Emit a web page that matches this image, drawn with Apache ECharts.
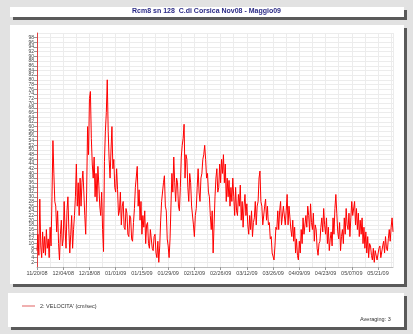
<!DOCTYPE html>
<html>
<head>
<meta charset="utf-8">
<script src="https://cdn.jsdelivr.net/npm/echarts@6/dist/echarts.min.js"></script>
<style>
html,body{margin:0;padding:0;background:#e2e2e2;}
#chart{width:413px;height:334px;}
</style>
</head>
<body>
<div id="chart"></div>
<script>
// ---- data ----
var titleText = "Rcm8 sn 128  C.di Corsica Nov08 - Maggio09";
var seriesName = "2: VELOCITA' (cm/sec)";
var footNote = "Averaging: 3";
// x tick labels, one every 14 days starting 11/20/08
var tickLabels = ['11/20/08','12/04/08','12/18/08','01/01/09','01/15/09','01/29/09','02/12/09',
  '02/26/09','03/12/09','03/26/09','04/09/09','04/23/09','05/07/09','05/21/09'];
var tickStepDays = 14;
var sampleStepDays = 0.5;
// speed values (cm/sec), every half day from 11/20/08
var velocity = [
 7,14, 5,29, 9,4, 15,6, 13,5, 16,8, 12,4, 17,9, 30,54, 40,28,
 26,15, 24,10, 3,14, 20,9, 12,28, 16,8, 24,30, 16,6, 14,22, 8,16,
 22,30, 44,26, 36,22, 38,26, 36,41, 32,22, 14,32, 60,48, 72,75, 55,44,
 38,47, 30,40, 28,43, 35,26, 22,32, 16,6.6, 45,58, 66,80, 58,46, 38,50,
 60,42, 46,34, 32,42, 33,22, 24,32, 18,26, 28,17, 16,25, 23,14, 13,22,
 21,12, 11,19, 25,34, 34,43, 26,33, 20,28, 14,22, 17,24, 10,18, 19,10,
 8,16, 16,8, 7,13, 14,6, 4,11, 2,9, 20,28, 28,36, 39,26, 24,12,
 9,4, 12,26, 40,32, 47,36, 28,38, 36,26, 24,34, 47,52, 55,61, 38,48,
 46,34, 28,40, 36,26, 26,18, 13,22, 25,34, 42,32, 28,38, 40,46, 48,52,
 46,38, 40,32, 30,22, 16,24, 6,18, 30,38, 42,32, 34,44, 36,46, 40,48,
 36,44, 28,38, 30,37, 26,34, 28,38, 30,22, 34,24, 22,31, 26,35, 20,28,
 17,26, 31,22, 27,18, 14,22, 16,24, 13,19, 21,28, 18,26, 28,38, 41,28,
 26,18, 18,26, 29,20, 26,18, 19,12, 13,6, 6,3, 9,17, 16,24, 16,24,
 28,18, 18,26, 26,18, 24,31, 18,26, 26,16, 13,20, 11,17, 6,12, 5,3,
 11,6, 16,10, 21,14, 14,22, 17,26, 22,15, 27,19, 16,23, 11,18, 16,8,
 5,10, 11,17, 21,15, 25,18, 14,21, 10,17, 7,12, 15,9, 21,14, 25,31,
 23,15, 12,19, 7,13, 16,10, 21,14, 25,18, 16,23, 13,21, 28,22, 22,28,
 18,25, 16,23, 13,20, 14,21, 10,17, 8,15, 6,13, 4,10, 9,5, 3,8,
 2,7, 7,3, 3,8, 9,4, 4,9, 11,6, 13,8, 7,12, 16,11, 17,21,
 15
];

var seriesData = velocity.map(function(v, i){ return [i * sampleStepDays, v]; });

var chart = echarts.init(document.getElementById('chart'), null, {renderer:'canvas'});
var font = 'Arial, "Liberation Sans", sans-serif';
function panel(x, y, w, h){
  return [
    {type:'rect', z:-20, shape:{x:x+3, y:y+3, width:w, height:h}, style:{fill:'#5a5a5a'}},
    {type:'rect', z:-19, shape:{x:x, y:y, width:w, height:h}, style:{fill:'#ffffff'}}
  ];
}
var option = {
  backgroundColor: '#e2e2e2',
  animation: false,
  graphic: [].concat(
    panel(10, 7, 394, 10),
    panel(10, 25, 394, 259),
    panel(8, 293, 396, 34),
    [{type:'text', z:5, left: 360, top: 316, style:{text: footNote, font: '5.5px ' + font, fill:'#333'}}]
  ),
  title: {
    text: titleText, left: 'center', top: 8, padding: 0,
    textStyle: {fontSize: 7, fontWeight: 'bold', color: '#2b2b86', fontFamily: font}
  },
  legend: {
    left: 17, top: 298, itemWidth: 13, itemHeight: 1, itemGap: 4, icon: 'rect',
    textStyle: {fontSize: 5.5, color: '#333', fontFamily: font},
    data: [{name: seriesName, icon:'rect', itemStyle:{color:'#e06060'}}]
  },
  grid: {left: 37, top: 33, right: 20, bottom: 67},
  xAxis: {
    type: 'value', min: 0, max: 190, interval: tickStepDays,
    axisLine: {show: true, lineStyle: {color: '#bdbdbd', width: 1}},
    axisTick: {show: true, length: 3, lineStyle: {color: '#999'}},
    minorTick: {show: false, splitNumber: 2},
    minorSplitLine: {show: true, lineStyle: {color: '#ececec', width: 1}},
    splitLine: {show: true, lineStyle: {color: '#ececec', width: 1}},
    axisLabel: {
      fontSize: 5.5, color: '#444', fontFamily: font, margin: 3,
      showMaxLabel: false,
      formatter: function(v){
        var k = Math.round(v / tickStepDays);
        if (Math.abs(k * tickStepDays - v) > 1e-6) return '';
        return tickLabels[k] || '';
      }
    }
  },
  yAxis: {
    type: 'value', min: 0, max: 100, interval: 2,
    axisLine: {show: true, lineStyle: {color: '#e04040', width: 1}},
    axisTick: {show: true, length: 3, lineStyle: {color: '#999'}},
    splitLine: {show: true, lineStyle: {color: '#ececec', width: 1}},
    axisLabel: {fontSize: 5, color: '#444', fontFamily: font, margin: 3}
  },
  series: [{
    name: seriesName, type: 'line', data: seriesData, showSymbol: false,
    lineStyle: {color: '#ff0000', width: 1},
    itemStyle: {color: '#e06060'},
    z: 3
  }]
};
chart.setOption(option);
</script>
</body>
</html>
